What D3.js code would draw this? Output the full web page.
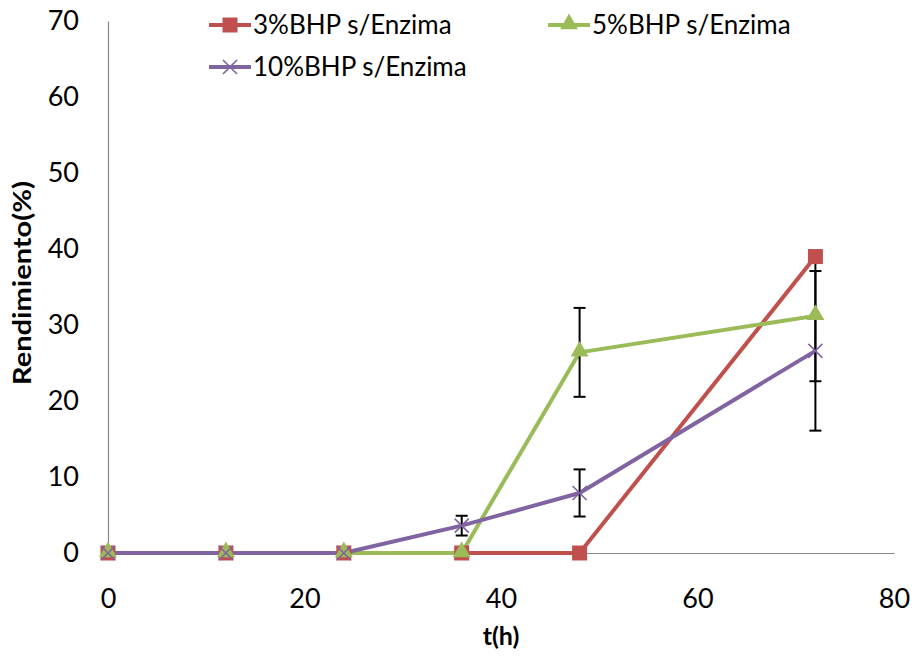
<!DOCTYPE html>
<html>
<head>
<meta charset="utf-8">
<script src="https://cdn.jsdelivr.net/npm/d3@7"></script>
<style>
  body { margin: 0; background: #fff; }
  svg { display: block; font-family: Lato, "Open Sans", sans-serif; }
</style>
</head>
<body>
<svg id="chart" width="918" height="657"></svg>
<script>
// Sampling times (h)
const hours = [0, 12, 24, 36, 48, 72];

// Yield (%) per condition
const serie3 = [0, 0, 0, 0, 0, 39.0];
const serie5 = [0, 0, 0, 0, 26.4, 31.2];
const serie10 = [0, 0, 0, 3.6, 7.9, 26.6];

// Error bar half-widths (null = none)
const err3 = [null, null, null, null, null, null];
const err5 = [null, null, null, null, 5.85, 8.6];
const err10 = [null, null, null, 1.3, 3.1, 10.5];

const seriesNames = ["3%BHP s/Enzima", "5%BHP s/Enzima", "10%BHP s/Enzima"];
const seriesColors = ["#C0504D", "#9BBB59", "#8064A2"];
const seriesMarkers = ["square", "triangle", "cross"];

const xTicks = [0, 20, 40, 60, 80];
const yTicks = [0, 10, 20, 30, 40, 50, 60, 70];

const svg = d3.select("#chart");
const x = d3.scaleLinear().domain([0, 80]).range([108, 894]);
const y = d3.scaleLinear().domain([0, 70]).range([553, 21]);

// Axes
const xAxis = svg.append("g").attr("transform", `translate(0,${y(0)})`)
  .call(d3.axisBottom(x).tickValues(xTicks).tickSize(0));
const yAxis = svg.append("g").attr("transform", `translate(${x(0)},0)`)
  .call(d3.axisLeft(y).tickValues(yTicks).tickSize(0).tickPadding(29));
[xAxis, yAxis].forEach(g => {
  g.select(".domain").attr("stroke", "#888").attr("stroke-width", 1.2);
  g.selectAll("text").attr("font-size", 27).attr("fill", "#000")
    .attr("font-family", "Lato, 'Open Sans', sans-serif");
});
xAxis.selectAll("text").attr("dy", "0.35em").attr("y", 46);

// Axis titles
svg.append("text").attr("x", 501).attr("y", 645).attr("text-anchor", "middle")
  .attr("font-size", 25).attr("font-weight", "bold").text("t(h)");
svg.append("text").attr("transform", "translate(31,283) rotate(-90)")
  .attr("text-anchor", "middle").attr("font-size", 25).attr("font-weight", "bold")
  .attr("textLength", 204).attr("lengthAdjust", "spacingAndGlyphs")
  .text("Rendimiento(%)");

const series = [
  { name: seriesNames[0], values: serie3, err: err3, color: seriesColors[0], marker: seriesMarkers[0] },
  { name: seriesNames[1], values: serie5, err: err5, color: seriesColors[1], marker: seriesMarkers[1] },
  { name: seriesNames[2], values: serie10, err: err10, color: seriesColors[2], marker: seriesMarkers[2] }
];

function drawMarker(g, type, color, cx, cy) {
  if (type === "square") {
    g.append("rect").attr("x", cx - 7.5).attr("y", cy - 7.5).attr("width", 15).attr("height", 15)
      .attr("fill", color);
  } else if (type === "triangle") {
    g.append("path").attr("d", d3.symbol().type(d3.symbolTriangle).size(140)())
      .attr("transform", `translate(${cx},${cy - 1})`).attr("fill", color);
  } else {
    g.append("path").attr("d", `M${cx - 7},${cy - 7}L${cx + 7},${cy + 7}M${cx - 7},${cy + 7}L${cx + 7},${cy - 7}`)
      .attr("stroke", color).attr("stroke-width", 1.6).attr("fill", "none");
  }
}

const line = d3.line().x(d => x(d[0])).y(d => y(d[1]));

series.forEach(s => {
  svg.append("path").datum(hours.map((h, i) => [h, s.values[i]]))
    .attr("d", line).attr("fill", "none").attr("stroke", s.color)
    .attr("stroke-width", 4).attr("stroke-linejoin", "round");
});

// Error bars
series.forEach(s => {
  hours.forEach((h, i) => {
    const e = s.err[i];
    if (e == null) return;
    const cx = x(h), top = y(s.values[i] + e), bot = y(s.values[i] - e);
    const eg = svg.append("g").attr("stroke", "#000").attr("stroke-width", 2);
    eg.append("line").attr("x1", cx).attr("x2", cx).attr("y1", top).attr("y2", bot);
    eg.append("line").attr("x1", cx - 6).attr("x2", cx + 6).attr("y1", top).attr("y2", top);
    eg.append("line").attr("x1", cx - 6).attr("x2", cx + 6).attr("y1", bot).attr("y2", bot);
  });
});

// Markers
series.forEach(s => {
  const mg = svg.append("g");
  hours.forEach((h, i) => drawMarker(mg, s.marker, s.color, x(h), y(s.values[i])));
});

// Legend
const legendPos = [[209, 25], [548, 25], [209, 67]];
series.forEach((s, i) => {
  const [lx, ly] = legendPos[i];
  const lg = svg.append("g");
  lg.append("line").attr("x1", lx).attr("x2", lx + 42).attr("y1", ly).attr("y2", ly)
    .attr("stroke", s.color).attr("stroke-width", 4);
  drawMarker(lg, s.marker, s.color, lx + 21, ly);
  lg.append("text").attr("x", lx + 44).attr("y", ly).attr("dy", "0.35em")
    .attr("font-size", 26).text(s.name);
});
</script>
</body>
</html>
